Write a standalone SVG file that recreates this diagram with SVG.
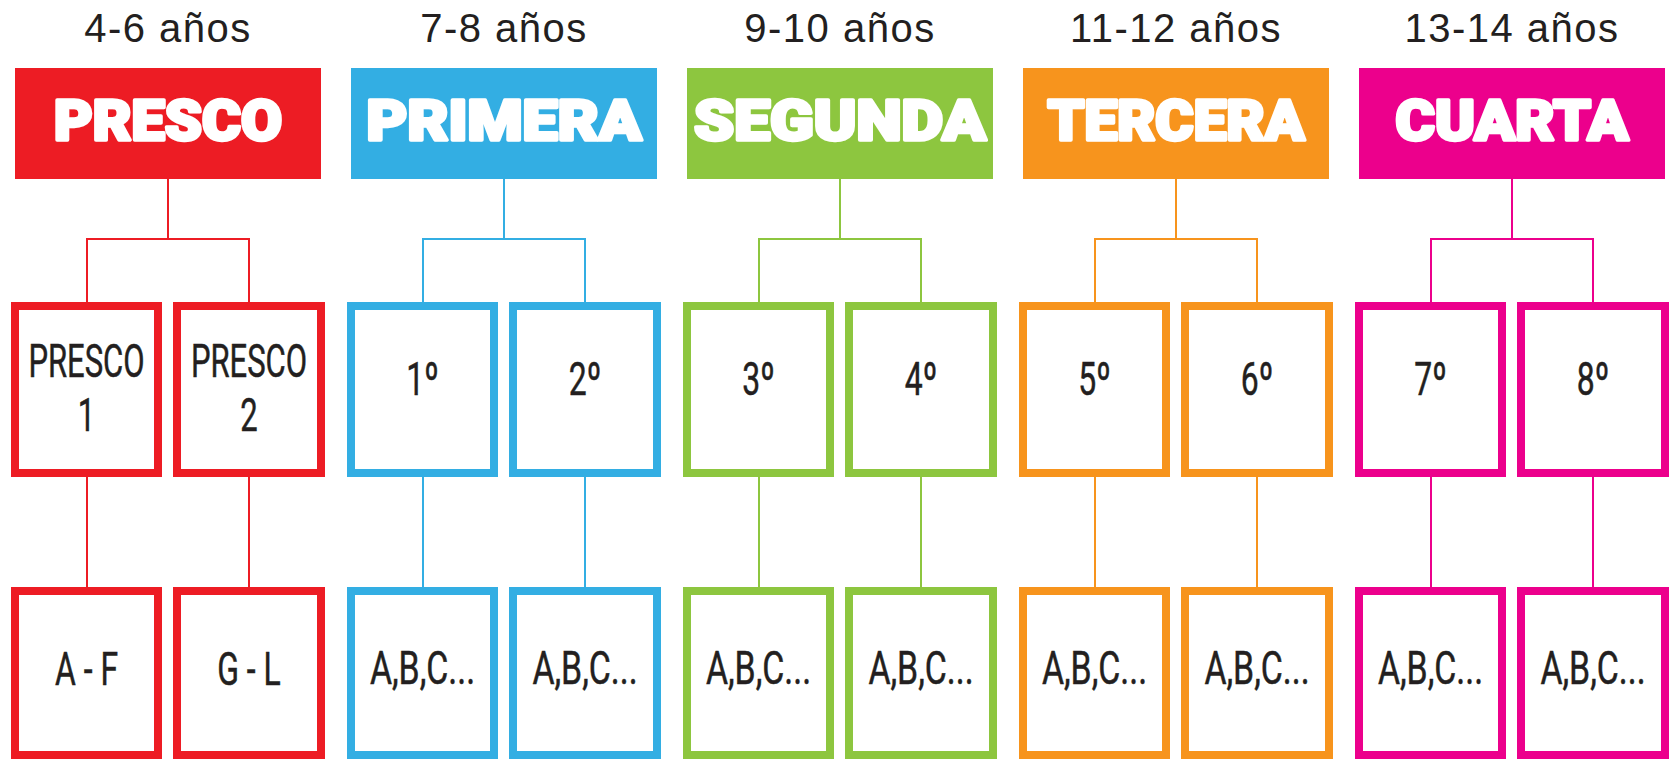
<svg xmlns="http://www.w3.org/2000/svg" width="1670" height="759" viewBox="0 0 1670 759">
<style>
.age{font-family:"Liberation Sans",Arial,sans-serif;font-size:40px;fill:#231F20;text-anchor:middle;letter-spacing:1.5px}
.hdr{font-family:Roboto,"DejaVu Sans",sans-serif;font-weight:900;font-size:56px;fill:#fff;stroke:#fff;stroke-width:3.5;stroke-linejoin:round;text-anchor:middle}
.lbl{font-family:Roboto,"Liberation Sans",sans-serif;font-size:47px;fill:#231F20;stroke:#231F20;stroke-width:0.5;text-anchor:middle}
.box{fill:#fff;stroke-width:8}
.ln{fill:none;stroke-width:2}
.red{fill:#ED1C24}.blue{fill:#33AEE3}.green{fill:#8DC63F}.orange{fill:#F7941D}.pink{fill:#EC008C}
.sred{stroke:#ED1C24}.sblue{stroke:#33AEE3}.sgreen{stroke:#8DC63F}.sorange{stroke:#F7941D}.spink{stroke:#EC008C}
</style>
<rect width="1670" height="759" fill="#fff"/>
<g id="connectors">
<path class="ln sred" d="M168 179V239M87 239H249M87 238V302M249 238V302M87 477V587M249 477V587"/>
<path class="ln sblue" d="M504 179V239M423 239H585M423 238V302M585 238V302M423 477V587M585 477V587"/>
<path class="ln sgreen" d="M840 179V239M759 239H921M759 238V302M921 238V302M759 477V587M921 477V587"/>
<path class="ln sorange" d="M1176 179V239M1095 239H1257M1095 238V302M1257 238V302M1095 477V587M1257 477V587"/>
<path class="ln spink" d="M1512 179V239M1431 239H1593M1431 238V302M1593 238V302M1431 477V587M1593 477V587"/>
</g>
<g id="presco">
<text class="age" x="168" y="42">4-6 años</text>
<rect class="red" x="15" y="68" width="306" height="111"/>
<text class="hdr" x="168" y="140" textLength="228" lengthAdjust="spacingAndGlyphs">PRESCO</text>
</g>
<g id="presco1"><rect class="box sred" x="15" y="306" width="143" height="167"/>
<g transform="translate(86.5,377) scale(0.66,1)"><text class="lbl" x="0" y="0">PRESCO</text><text class="lbl" x="0" y="54">1</text></g></g>
<g id="presco2"><rect class="box sred" x="177" y="306" width="144" height="167"/>
<g transform="translate(249,377) scale(0.66,1)"><text class="lbl" x="0" y="0">PRESCO</text><text class="lbl" x="0" y="54">2</text></g></g>
<g id="af"><rect class="box sred" x="15" y="591" width="143" height="164"/>
<text class="lbl" transform="translate(86.5,685) scale(0.68,1)">A - F</text></g>
<g id="gl"><rect class="box sred" x="177" y="591" width="144" height="164"/>
<text class="lbl" transform="translate(249,685) scale(0.68,1)">G - L</text></g>

<g id="primera">
<text class="age" x="504" y="42">7-8 años</text>
<rect class="blue" x="351" y="68" width="306" height="111"/>
<text class="hdr" x="504" y="140" textLength="275" lengthAdjust="spacingAndGlyphs">PRIMERA</text>
</g>
<g id="g1"><rect class="box sblue" x="351" y="306" width="143" height="167"/>
<text class="lbl" transform="translate(422.5,395) scale(0.68,1)">1º</text></g>
<g id="g2"><rect class="box sblue" x="513" y="306" width="144" height="167"/>
<text class="lbl" transform="translate(585,395) scale(0.68,1)">2º</text></g>
<g id="g1s"><rect class="box sblue" x="351" y="591" width="143" height="164"/>
<text class="lbl" transform="translate(422.5,684) scale(0.72,1)">A,B,C...</text></g>
<g id="g2s"><rect class="box sblue" x="513" y="591" width="144" height="164"/>
<text class="lbl" transform="translate(585,684) scale(0.72,1)">A,B,C...</text></g>

<g id="segunda">
<text class="age" x="840" y="42">9-10 años</text>
<rect class="green" x="687" y="68" width="306" height="111"/>
<text class="hdr" x="840" y="140" textLength="292" lengthAdjust="spacingAndGlyphs">SEGUNDA</text>
</g>
<g id="g3"><rect class="box sgreen" x="687" y="306" width="143" height="167"/>
<text class="lbl" transform="translate(758.5,395) scale(0.68,1)">3º</text></g>
<g id="g4"><rect class="box sgreen" x="849" y="306" width="144" height="167"/>
<text class="lbl" transform="translate(921,395) scale(0.68,1)">4º</text></g>
<g id="g3s"><rect class="box sgreen" x="687" y="591" width="143" height="164"/>
<text class="lbl" transform="translate(758.5,684) scale(0.72,1)">A,B,C...</text></g>
<g id="g4s"><rect class="box sgreen" x="849" y="591" width="144" height="164"/>
<text class="lbl" transform="translate(921,684) scale(0.72,1)">A,B,C...</text></g>

<g id="tercera">
<text class="age" x="1176" y="42">11-12 años</text>
<rect class="orange" x="1023" y="68" width="306" height="111"/>
<text class="hdr" x="1176" y="140" textLength="257" lengthAdjust="spacingAndGlyphs">TERCERA</text>
</g>
<g id="g5"><rect class="box sorange" x="1023" y="306" width="143" height="167"/>
<text class="lbl" transform="translate(1094.5,395) scale(0.68,1)">5º</text></g>
<g id="g6"><rect class="box sorange" x="1185" y="306" width="144" height="167"/>
<text class="lbl" transform="translate(1257,395) scale(0.68,1)">6º</text></g>
<g id="g5s"><rect class="box sorange" x="1023" y="591" width="143" height="164"/>
<text class="lbl" transform="translate(1094.5,684) scale(0.72,1)">A,B,C...</text></g>
<g id="g6s"><rect class="box sorange" x="1185" y="591" width="144" height="164"/>
<text class="lbl" transform="translate(1257,684) scale(0.72,1)">A,B,C...</text></g>

<g id="cuarta">
<text class="age" x="1512" y="42">13-14 años</text>
<rect class="pink" x="1359" y="68" width="306" height="111"/>
<text class="hdr" x="1512" y="140" textLength="233" lengthAdjust="spacingAndGlyphs">CUARTA</text>
</g>
<g id="g7"><rect class="box spink" x="1359" y="306" width="143" height="167"/>
<text class="lbl" transform="translate(1430.5,395) scale(0.68,1)">7º</text></g>
<g id="g8"><rect class="box spink" x="1521" y="306" width="144" height="167"/>
<text class="lbl" transform="translate(1593,395) scale(0.68,1)">8º</text></g>
<g id="g7s"><rect class="box spink" x="1359" y="591" width="143" height="164"/>
<text class="lbl" transform="translate(1430.5,684) scale(0.72,1)">A,B,C...</text></g>
<g id="g8s"><rect class="box spink" x="1521" y="591" width="144" height="164"/>
<text class="lbl" transform="translate(1593,684) scale(0.72,1)">A,B,C...</text></g>
</svg>
